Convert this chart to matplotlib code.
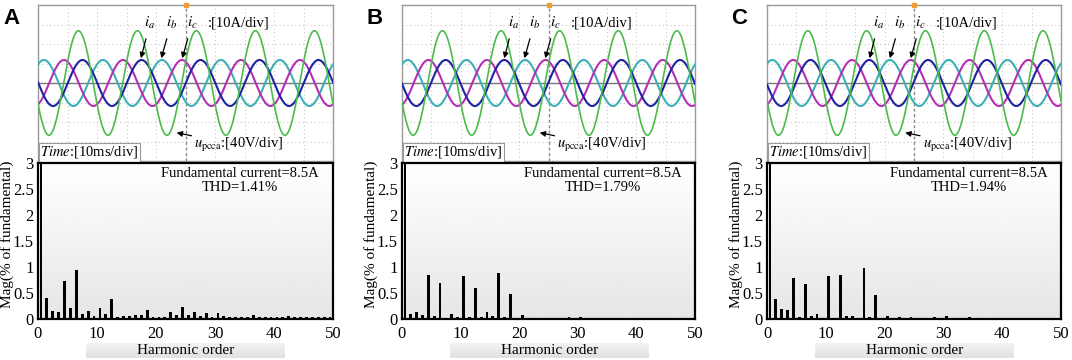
import numpy as np
import matplotlib
matplotlib.use("Agg")
import matplotlib.pyplot as plt

plt.rcParams['font.family'] = ['Liberation Serif', 'DejaVu Serif']
plt.rcParams['mathtext.fontset'] = 'stix'

# ---- data ----
panel_names = ["A", "B", "C"]
thd_values = ["1.41%", "1.79%", "1.94%"]
fundamental_current = "8.5A"
harmonic_orders = list(range(1, 51))

mag_a = [100, 0.40, 0.15, 0.14, 0.73, 0.21, 0.94, 0.09, 0.15, 0.06,
         0.21, 0.09, 0.38, 0.03, 0.06, 0.06, 0.07, 0.07, 0.17, 0.03,
         0.03, 0.03, 0.13, 0.07, 0.23, 0.08, 0.13, 0.06, 0.11, 0.04,
         0.11, 0.06, 0.03, 0.03, 0.03, 0.03, 0.07, 0.03, 0.03, 0.03,
         0.03, 0.03, 0.06, 0.03, 0.03, 0.03, 0.03, 0.03, 0.03, 0.03]
mag_b = [100, 0.09, 0.13, 0.07, 0.84, 0.05, 0.69, 0.02, 0.09, 0.03,
         0.83, 0.03, 0.60, 0.03, 0.14, 0.05, 0.88, 0.03, 0.48, 0.02,
         0.07, 0.02, 0.02, 0.02, 0.02, 0.015, 0.015, 0.015, 0.04, 0.015,
         0.04, 0.015, 0.015, 0.015, 0.02, 0.015, 0.02, 0.015, 0.015, 0.015,
         0.015, 0.015, 0.015, 0.015, 0.015, 0.015, 0.015, 0.015, 0.015, 0.015]
mag_c = [100, 0.38, 0.20, 0.17, 0.78, 0.03, 0.67, 0.06, 0.10, 0.02,
         0.82, 0.02, 0.84, 0.06, 0.06, 0.02, 0.98, 0.04, 0.47, 0.02,
         0.05, 0.02, 0.03, 0.02, 0.04, 0.02, 0.02, 0.02, 0.04, 0.02,
         0.05, 0.02, 0.02, 0.02, 0.03, 0.02, 0.02, 0.02, 0.02, 0.02,
         0.02, 0.02, 0.02, 0.02, 0.02, 0.02, 0.02, 0.02, 0.02, 0.02]
magnitudes = [mag_a, mag_b, mag_c]

# scope traces: amplitude in divisions, time of a peak in ms (50 Hz)
period_ms = 20.0
u_amp = 2.68
i_amp = 1.18
u_peak_ms = [13.7, 13.8, 13.9]
ia_peak_ms = [15.1, 14.9, 14.8]
ib_peak_ms = [2.0, 2.0, 1.8]
ic_peak_ms = [8.8, 9.0, 8.9]

# ---- layout (pixels) ----
W, H = 1072, 360
left_px = [38, 402, 767]
width_px = [295, 293, 294]
letter_px = [3, 367, 731]

fig = plt.figure(figsize=(W / 100, H / 100), dpi=100)


def fax(x, y, w, h):
    return fig.add_axes([x / W, 1 - (y + h) / H, w / W, h / H])


t = np.linspace(0, 100, 3000)
grad = np.linspace(1.0, 0.9, 256).reshape(-1, 1)

for k in range(3):
    x0, w = left_px[k], width_px[k]

    # ---------- oscilloscope ----------
    ax = fax(x0, 5, w, 156)
    ax.set_xlim(0, 100)
    ax.set_ylim(-4, 4)
    for v in range(10, 100, 10):
        ax.axvline(v, color='#bdbdbd', lw=0.7, ls=(0, (1, 3)), zorder=1)
    for v in [-3, -2, -1, 1, 2, 3]:
        ax.axhline(v, color='#bdbdbd', lw=0.7, ls=(0, (1, 3)), zorder=1)
    ax.axhline(0, color='#777777', lw=1.0, zorder=1)
    ax.axvline(50, color='#888888', lw=1.0, ls=(0, (2, 2)), zorder=1)

    w0 = 2 * np.pi / period_ms
    ia = i_amp * np.cos(w0 * (t - ia_peak_ms[k]))
    ib = i_amp * np.cos(w0 * (t - ib_peak_ms[k]))
    ic = i_amp * np.cos(w0 * (t - ic_peak_ms[k]))
    u = u_amp * np.cos(w0 * (t - u_peak_ms[k]))
    ax.plot(t, ib, color='#3cb0b4', lw=1.5, zorder=3)
    ax.plot(t, ic, color='#b52fb5', lw=1.5, zorder=3)
    ax.plot(t, ia, color='#1f23a0', lw=1.5, zorder=3)
    ax.plot(t, u, color='#4cbb4c', lw=1.2, zorder=4)

    ax.set_xticks([])
    ax.set_yticks([])
    for s in ax.spines.values():
        s.set_color('#9a9a9a')
        s.set_linewidth(1.0)

    # labels + arrows
    fs = 10.5
    for lab, tx, tip in [("$i_a$", 38.0, 34.9), ("$i_b$", 45.2, 41.8), ("$i_c$", 52.3, 48.9)]:
        ax.annotate(lab, xy=(tip, 1.27), xytext=(tx, 3.1), fontsize=fs + 0.5,
                    ha='center', va='center', zorder=6,
                    arrowprops=dict(arrowstyle='-|>', color='black', lw=0.9,
                                    mutation_scale=8, shrinkA=4, shrinkB=0))
    ax.text(57.5, 3.1, ":[10A/div]", fontsize=fs, ha='left', va='center', zorder=6)
    ax.annotate(r"$u_{\mathrm{pcca}}$:[40V/div]", xy=(47.0, -2.55), xytext=(53.0, -3.2),
                fontsize=fs, ha='left', va='center', zorder=6,
                arrowprops=dict(arrowstyle='-|>', color='black', lw=0.9,
                                mutation_scale=8, shrinkA=0, shrinkB=0))
    ax.text(0.8, -3.55, r"$\mathit{Time}$:[10ms/div]", fontsize=fs, ha='left', va='center',
            zorder=6, bbox=dict(boxstyle='square,pad=0.1', fc='white', ec='#9a9a9a', lw=0.8))
    ax.plot([50], [4.0], marker='s', color='#f0a030', ms=3, clip_on=False, zorder=7)

    # panel letter
    fig.text(letter_px[k] / W, 1 - 18 / H, panel_names[k], fontsize=16, fontweight='bold',
             family=['Liberation Sans', 'DejaVu Sans'], ha='left', va='center')

    # ---------- harmonic spectrum ----------
    bx = fax(x0, 163, w, 156)
    bx.imshow(grad, cmap='gray', vmin=0, vmax=1, aspect='auto',
              extent=[0, 50, 0, 3], zorder=0)
    pos = [h - 0.5 for h in harmonic_orders]
    bx.bar(pos, magnitudes[k], width=0.48, color='black', zorder=2)
    bx.set_xlim(0, 50)
    bx.set_ylim(0, 3)
    bx.set_xticks([0, 10, 20, 30, 40, 50])
    bx.set_yticks([0, 0.5, 1, 1.5, 2, 2.5, 3])
    bx.set_yticklabels(["0", "0.5", "1", "1.5", "2", "2.5", "3"])
    bx.tick_params(length=0, labelsize=12, pad=3)
    bx.tick_params(axis='x', pad=5)
    for s in bx.spines.values():
        s.set_color('black')
        s.set_linewidth(1.6)
    bx.set_ylabel("Mag(% of fundamental)", fontsize=11)
    bx.yaxis.set_label_coords(-24 / w, 0.54)
    bx.text(0.685, 0.935, "Fundamental current=" + fundamental_current, transform=bx.transAxes,
            fontsize=10.5, ha='center', va='center')
    bx.text(0.685, 0.845, "THD=" + thd_values[k], transform=bx.transAxes,
            fontsize=10.5, ha='center', va='center')

    # "Harmonic order" label band
    lx = fax(x0 + 48, 343, 199, 15)
    lx.imshow(np.linspace(0.95, 0.88, 64).reshape(-1, 1), cmap='gray', vmin=0, vmax=1,
              aspect='auto', extent=[0, 1, 0, 1])
    lx.set_xlim(0, 1)
    lx.set_ylim(0, 1)
    lx.axis('off')
    lx.text(0.5, 0.5, "Harmonic order", fontsize=11, ha='center', va='center')

fig.savefig("out.png", dpi=100)
